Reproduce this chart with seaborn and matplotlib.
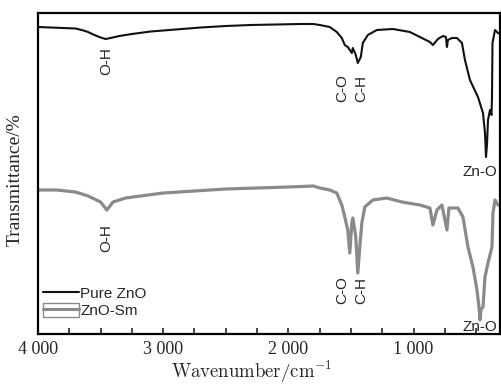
import numpy as np
import pandas as pd
import matplotlib
matplotlib.use("Agg")
import matplotlib.pyplot as plt
from matplotlib.lines import Line2D
from matplotlib.patches import Patch
import seaborn as sns

# ---- data (transmittance in arbitrary units) ----
pure_wn = [4000, 3900, 3800, 3700, 3650, 3600, 3550, 3500, 3460, 3420, 3350, 3250, 3100, 2900, 2700,
           2500, 2300, 2100, 1900, 1800, 1749, 1669, 1613, 1573, 1549, 1525, 1493, 1485, 1461, 1445,
           1421, 1405, 1365, 1293, 1165, 1029, 949, 869, 845, 805, 765, 741, 733, 725, 693, 653, 613,
           589, 549, 485, 445, 429, 421, 413, 405, 389, 377, 373, 369, 349, 325, 309]
pure_T = [307, 306.5, 306, 305.5, 304, 302, 299, 296.5, 295, 296, 298, 300, 302.5, 304.5, 306.5,
          308, 309, 309.5, 310, 310, 309, 307, 302, 296, 289, 287, 281, 286, 279, 271,
          277, 291, 299, 304, 305, 302, 297, 292, 289, 295, 298, 297, 287, 294, 296, 296, 291,
          274, 254, 237, 221, 201, 177, 189, 214, 224, 219, 237, 291, 304, 301, 300]

sm_wn = [4000, 3850, 3700, 3600, 3500, 3450, 3400, 3300, 3000, 2500, 2000, 1800, 1749, 1669, 1613,
         1573, 1549, 1525, 1509, 1493, 1485, 1461, 1445, 1429, 1413, 1389, 1325, 1213, 1093, 949,
         869, 845, 813, 773, 733, 717, 645, 605, 565, 525, 493, 477, 469, 461, 445, 429, 405, 373,
         365, 349, 325, 309]
sm_T = [144, 144, 142, 138, 132, 124, 132, 136, 141, 145, 147, 148, 146, 144, 141,
        129, 117, 104, 81, 111, 116, 97, 61, 87, 111, 127, 134, 136, 132, 129,
        126, 109, 124, 129, 104, 126, 126, 117, 87, 67, 44, 27, 14, 24, 27, 57, 71, 87,
        121, 134, 129, 129]

series_names = ["Pure ZnO", "ZnO-Sm"]
xtick_vals = [4000, 3000, 2000, 1000]
xtick_labels = ["4 000", "3 000", "2 000", "1 000"]

# annotations
ann_text = ["O-H", "C-O", "C-H", "O-H", "C-O", "C-H"]
ann_wn = [3453, 1566, 1414, 3453, 1566, 1414]
ann_T = [273, 246, 246, 96, 44, 44]
zno_text = "Zn-O"
zno_wn = 605
zno_T = [162, 7]

df = pd.concat([
    pd.DataFrame({"wn": pure_wn, "T": pure_T, "sample": series_names[0]}),
    pd.DataFrame({"wn": sm_wn, "T": sm_T, "sample": series_names[1]}),
], ignore_index=True)

sns.set_style("ticks")
plt.rcParams["mathtext.fontset"] = "cm"

fig = plt.figure(figsize=(5.01, 3.86), dpi=100)
ax = fig.add_axes([38 / 501, 52 / 386, 462 / 501, 321 / 386])

colors = {"Pure ZnO": "#111111", "ZnO-Sm": "#8a8a8a"}
sizes = {"Pure ZnO": 1.5, "ZnO-Sm": 2.3}
for name in series_names:
    sns.lineplot(data=df[df["sample"] == name], x="wn", y="T", color=colors[name],
                 linewidth=sizes[name], estimator=None, sort=False, legend=False, ax=ax)

ax.set_xlim(4000, 309)
ax.set_ylim(0, 321)
ax.set_yticks([])
ax.set_xticks(xtick_vals, labels=xtick_labels)
ax.xaxis.set_minor_locator(matplotlib.ticker.MultipleLocator(250))
ax.tick_params(axis="x", which="both", direction="in", length=4, width=1.2, pad=5,
               labelsize=13)
for lab in ax.get_xticklabels():
    lab.set_fontfamily("Liberation Serif")
for sp in ax.spines.values():
    sp.set_visible(True)
    sp.set_linewidth(1.6)
    sp.set_color("black")

ax.set_ylabel("Transmittance/%", family="Liberation Serif", fontsize=14)
ax.yaxis.set_label_coords(-0.03, 0.48)
ax.set_xlabel(r"$\mathrm{Wavenumber/cm^{-1}}$", fontsize=13.5)
ax.xaxis.set_label_coords(0.463, -0.078)

sans = "Liberation Sans"
for t, w, v in zip(ann_text, ann_wn, ann_T):
    ax.text(w, v, t, rotation=90, ha="center", va="center", fontsize=11, family=sans)
for v in zno_T:
    ax.text(zno_wn, v, zno_text, ha="left", va="center", fontsize=11, family=sans)

handles = [Line2D([], [], color=colors["Pure ZnO"], lw=1.5),
           (Patch(facecolor="none", edgecolor=colors["ZnO-Sm"], lw=1.0),
            Line2D([], [], color=colors["ZnO-Sm"], lw=2.2))]
ax.legend(handles=handles, labels=series_names, loc="upper left",
          bbox_to_anchor=((43 - 38) / 462, (334 - 286) / 321), frameon=False,
          borderpad=0, borderaxespad=0, handlelength=2.35, handleheight=1.0,
          handletextpad=0.1, labelspacing=0.15, prop={"family": sans, "size": 11})

fig.savefig("out.png", dpi=100)
